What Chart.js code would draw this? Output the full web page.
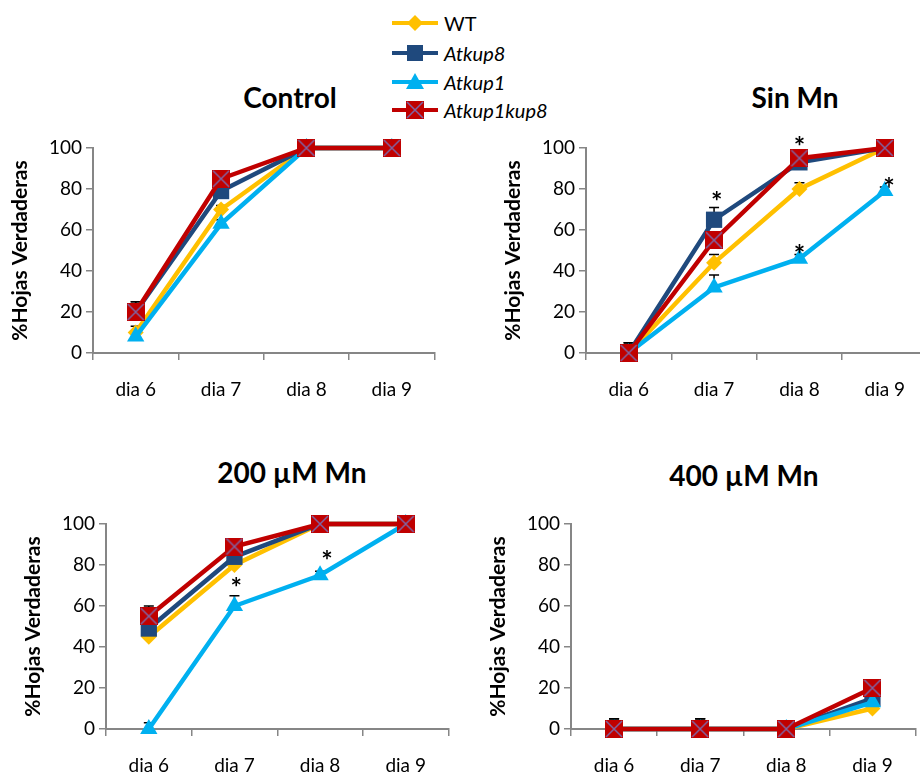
<!DOCTYPE html>
<html>
<head>
<meta charset="utf-8">
<script src="https://cdn.jsdelivr.net/npm/chart.js@4.4.1/dist/chart.umd.min.js"></script>
<style>
  html, body { margin: 0; padding: 0; width: 920px; height: 776px; overflow: hidden; background: #fff; font-family: Lato, sans-serif; }
  canvas { position: absolute; }
  .title { position: absolute; font-weight: bold; font-size: 28px; line-height: 1; transform: translate(-50%, -50%); white-space: nowrap; color: #000; }
  .legend-row { position: absolute; left: 391px; height: 24px; display: flex; align-items: center; font-size: 20px; transform: translateY(-50%); color: #000; }
  .legend-row span { margin-left: 5px; }
</style>
</head>
<body>
<div id="legend"></div>
<div class="title" style="left:290px; top:97px">Control</div>
<div class="title" style="left:795px; top:97px">Sin Mn</div>
<div class="title" style="left:292px; top:472px">200 µM Mn</div>
<div class="title" style="left:744px; top:475px">400 µM Mn</div>
<canvas id="control"></canvas>
<canvas id="sinMn"></canvas>
<canvas id="mn200"></canvas>
<canvas id="mn400"></canvas>
<script>
// x axis categories and series
const days = ['dia 6', 'dia 7', 'dia 8', 'dia 9'];
const seriesNames = ['WT', 'Atkup8', 'Atkup1', 'Atkup1kup8'];

// % true leaves, one row per series (WT, Atkup8, Atkup1, Atkup1kup8)
const controlValues = [
  [10, 70, 100, 100],
  [20, 79, 100, 100],
  [8, 63, 100, 100],
  [20, 85, 100, 100]
];
const controlErrors = [
  [3, 2, 0, 0],
  [5, 2, 0, 0],
  [2, 2, 0, 0],
  [5, 2, 0, 0]
];

const sinMnValues = [
  [0, 44, 80, 100],
  [0, 65, 93, 100],
  [0, 32, 46, 79],
  [0, 55, 95, 100]
];
const sinMnErrors = [
  [5, 4, 3, 0],
  [5, 6, 3, 0],
  [0, 6, 2, 2],
  [5, 4, 3, 0]
];
// asterisks: [category position, y value]
const sinMnStars = [[1.03, 77], [2.0, 104], [2.0, 51], [3.05, 84]];

const mn200Values = [
  [45, 80, 100, 100],
  [49, 84, 100, 100],
  [0, 60, 75, 100],
  [55, 89, 100, 100]
];
const mn200Errors = [
  [4, 3, 0, 0],
  [5, 3, 0, 0],
  [3, 5, 2, 0],
  [5, 3, 0, 0]
];
const mn200Stars = [[1.02, 72], [2.08, 85]];

const mn400Values = [
  [0, 0, 0, 10],
  [0, 0, 0, 15],
  [0, 0, 0, 13],
  [0, 0, 0, 20]
];
const mn400Errors = [
  [5, 5, 0, 3],
  [5, 5, 0, 3],
  [3, 3, 0, 2],
  [5, 5, 0, 3]
];

const seriesColors = ['#FFC000', '#1F497D', '#00B0F0', '#C00000'];
const axisColor = '#868686';

// red square with purple cross, like the Excel marker
function crossSquare(size) {
  const c = document.createElement('canvas');
  c.width = size; c.height = size;
  const g = c.getContext('2d');
  g.fillStyle = '#C00000';
  g.fillRect(0, 0, size, size);
  g.strokeStyle = '#8064A2';
  g.lineWidth = 1.5;
  g.beginPath();
  g.moveTo(1, 1); g.lineTo(size - 1, size - 1);
  g.moveTo(size - 1, 1); g.lineTo(1, size - 1);
  g.stroke();
  return c;
}

const markers = ['rectRot', 'rect', 'triangle', crossSquare(18)];
const markerRadius = [8, 11.5, 10, 9];

// legend (html)
const legend = document.getElementById('legend');
const rowY = [23, 53, 82, 110];
seriesNames.forEach((name, i) => {
  const c = seriesColors[i];
  let mark = '';
  if (i === 0) mark = `<polygon points="24,4 32,12 24,20 16,12" fill="${c}"/>`;
  if (i === 1) mark = `<rect x="16" y="4" width="16" height="16" fill="${c}"/>`;
  if (i === 2) mark = `<polygon points="24,3 33,19 15,19" fill="${c}"/>`;
  if (i === 3) mark = `<rect x="15" y="3" width="18" height="18" fill="${c}"/><path d="M16 4 L32 20 M32 4 L16 20" stroke="#8064A2" stroke-width="1.5"/>`;
  const row = document.createElement('div');
  row.className = 'legend-row';
  row.style.top = rowY[i] + 'px';
  row.innerHTML = `<svg width="48" height="24"><line x1="1" y1="12" x2="47" y2="12" stroke="${c}" stroke-width="4"/>${mark}</svg>` +
    `<span style="font-style:${i === 0 ? 'normal' : 'italic'}">${name}</span>`;
  legend.appendChild(row);
});

const errorBarPlugin = {
  id: 'errorBars',
  beforeDatasetsDraw(chart) {
    const ctx = chart.ctx, xs = chart.scales.x, ys = chart.scales.y;
    ctx.save();
    ctx.strokeStyle = '#000';
    ctx.lineWidth = 1.5;
    chart.data.datasets.forEach(ds => {
      ds.data.forEach((v, j) => {
        const e = ds.errors[j];
        if (!e) return;
        const px = xs.getPixelForValue(j);
        const y0 = ys.getPixelForValue(v), y1 = ys.getPixelForValue(v + e);
        ctx.beginPath();
        ctx.moveTo(px, y0); ctx.lineTo(px, y1);
        ctx.moveTo(px - 5, y1); ctx.lineTo(px + 5, y1);
        ctx.stroke();
      });
    });
    ctx.restore();
  }
};

function starPlugin(stars) {
  return {
    id: 'stars',
    afterDatasetsDraw(chart) {
      const ctx = chart.ctx, xs = chart.scales.x, ys = chart.scales.y;
      ctx.save();
      ctx.fillStyle = '#000';
      ctx.font = 'bold 27px Lato';
      ctx.textAlign = 'center';
      ctx.textBaseline = 'middle';
      stars.forEach(([sx, sy]) => {
        ctx.fillText('*', xs.getPixelForValue(sx), ys.getPixelForValue(sy) + 7);
      });
      ctx.restore();
    }
  };
}

function makePanel(id, box, plot, values, errors, stars) {
  const canvas = document.getElementById(id);
  canvas.width = box.w;
  canvas.height = box.h;
  canvas.style.left = box.x + 'px';
  canvas.style.top = box.y + 'px';

  const datasets = values.map((v, i) => ({
    label: seriesNames[i],
    data: v,
    errors: errors[i],
    borderColor: seriesColors[i],
    backgroundColor: seriesColors[i],
    borderWidth: 4.5,
    pointStyle: markers[i],
    pointRadius: markerRadius[i],
    pointBorderWidth: 0,
    pointBackgroundColor: seriesColors[i],
    tension: 0,
    clip: false,
    order: 3 - i
  }));

  new Chart(canvas, {
    type: 'line',
    data: { labels: days, datasets: datasets },
    options: {
      responsive: false,
      animation: false,
      events: [],
      layout: { padding: { left: 0, top: plot.top - box.y, right: box.x + box.w - plot.right, bottom: 0 } },
      plugins: { legend: { display: false }, tooltip: { enabled: false } },
      scales: {
        x: {
          offset: true,
          grid: { offset: true, drawOnChartArea: false, tickLength: 7, color: axisColor, lineWidth: 1.5 },
          border: { color: axisColor, width: 2 },
          ticks: { font: { family: 'Lato', size: 19 }, color: '#000', padding: 18, maxRotation: 0 },
          afterFit: s => { s.height = box.y + box.h - plot.bottom; }
        },
        y: {
          min: 0, max: 100,
          ticks: { stepSize: 20, font: { family: 'Lato', size: 19 }, color: '#000', padding: 4 },
          grid: { drawOnChartArea: false, tickLength: 7, color: axisColor, lineWidth: 1.5 },
          border: { color: axisColor, width: 2 },
          title: { display: true, text: '%Hojas Verdaderas', font: { family: 'Lato', size: 21, weight: 'bold' }, color: '#000', padding: { top: 8, bottom: 0 } },
          afterFit: s => { s.width = plot.left - box.x; }
        }
      }
    },
    plugins: [errorBarPlugin, starPlugin(stars)]
  });
}

makePanel('control', { x: 0, y: 120, w: 446, h: 290 }, { left: 93, right: 438, top: 148, bottom: 353 }, controlValues, controlErrors, []);
makePanel('sinMn', { x: 493, y: 120, w: 446, h: 290 }, { left: 586, right: 931, top: 148, bottom: 353 }, sinMnValues, sinMnErrors, sinMnStars);
makePanel('mn200', { x: 13, y: 496, w: 447, h: 290 }, { left: 106, right: 452, top: 524, bottom: 729 }, mn200Values, mn200Errors, mn200Stars);
makePanel('mn400', { x: 478, y: 496, w: 449, h: 290 }, { left: 571, right: 919, top: 524, bottom: 729 }, mn400Values, mn400Errors, []);
</script>
</body>
</html>
